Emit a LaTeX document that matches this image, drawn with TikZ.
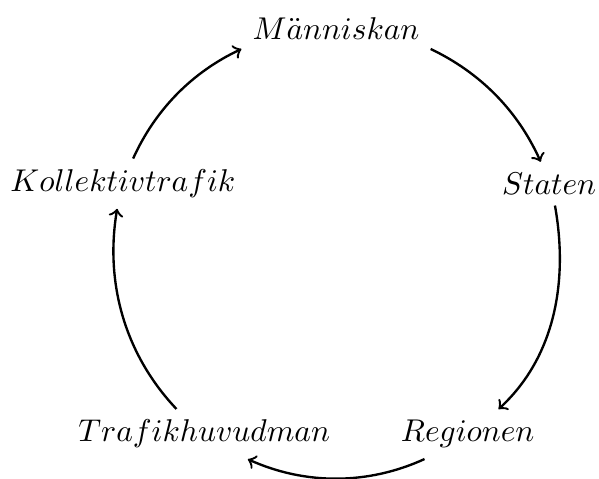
\documentclass[tikz,border=0pt]{standalone}
\begin{document}
\begin{tikzpicture}[
  lbl/.style={inner sep=3.33pt},
  arr/.style={->, line width=0.75pt}]
\useasboundingbox (-106.7pt,-71.7pt) rectangle (83.5pt,80.3pt);
\coordinate (c) at (0,0);
\node[lbl] (m) at ([shift={(90:2.5cm)}]c) {$M\ddot{a}nniskan$};
\node[lbl] (s) at ([shift={(18:2.5cm)}]c) {$Staten$};
\node[lbl] (r) at ([shift={(-54:2.5cm)}]c) {$Regionen$};
\node[lbl] (t) at ([shift={(-126:2.5cm)}]c) {$Trafikhuvudman$};
\node[lbl] (k) at ([shift={(162:2.5cm)}]c) {$Kollektivtrafik$};
\draw[arr] (m.-12.75) to[out=-25.5, in=114.2, looseness=0.9] (s.111.1);
\draw[arr] (s.-75.9) to[out=-79.8, in=42.7, looseness=0.93] (r.39.4);
\draw[arr] (r.210.3) to[out=-155.4, in=-24.2, looseness=0.91] (t.-30.1);
\draw[arr] (t.138.7) to[out=133.4, in=-99.6, looseness=0.92] (k.-103.8);
\draw[arr] (k.68.7) to[out=65.6, in=-154.7, looseness=0.9] (m.192.6);
\end{tikzpicture}
\end{document}
